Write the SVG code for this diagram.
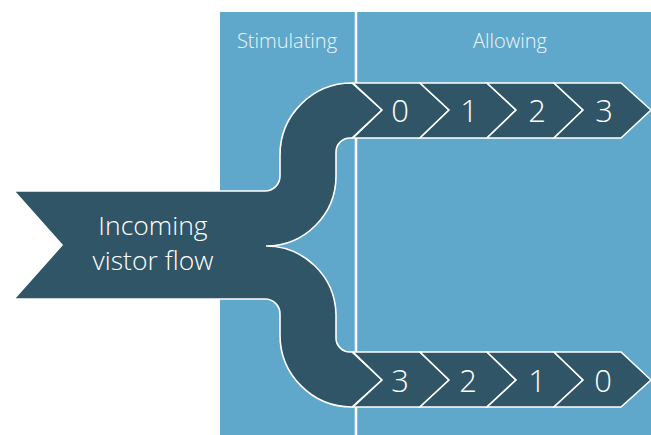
<svg xmlns="http://www.w3.org/2000/svg" width="651" height="435" viewBox="0 0 651 435">
<defs>
<style>
.panel{fill:#5fa8cb}
.dark{fill:#2f5567;stroke:#ffffff;stroke-width:1.6;stroke-linejoin:miter}
.hdr{font-family:"Open Sans","Liberation Sans",sans-serif;font-weight:300;font-size:20px;fill:#eef5f9;text-anchor:middle}
.num{font-family:"Open Sans","Liberation Sans",sans-serif;font-weight:300;font-size:31px;fill:#ffffff;text-anchor:middle;dominant-baseline:central}
.lbl{font-family:"Open Sans","Liberation Sans",sans-serif;font-weight:300;font-size:26.5px;fill:#ffffff;text-anchor:middle}
</style>
</defs>
<g id="background">
<rect class="panel" x="220" y="12" width="431" height="423"/>
<line x1="356" y1="12" x2="356" y2="435" stroke="#ffffff" stroke-width="2.5"/>
<text class="hdr" x="287" y="48">Stimulating</text>
<text class="hdr" x="510" y="48">Allowing</text>
</g>
<g id="connectors">
<path class="dark" d="M14,191 L265,191 A15,15 0 0 0 280,176 L280,155 A72,72 0 0 1 352,83 L382,110 L352,138 L350,138 A14,14 0 0 0 336,152 L336,176 A70,70 0 0 1 266,246 A70,70 0 0 1 336,314 L336,338 A14,14 0 0 0 350,352 L352,352 L382,380 L352,407 A72,72 0 0 1 280,335 L280,314 A15,15 0 0 0 265,299 L14,299 L62,245 Z"/>
</g>
<g id="incoming">
<text class="lbl" x="153" y="235">Incoming</text>
<text class="lbl" x="153" y="270">vistor flow</text>
</g>
<g id="top-chevrons">
<g id="top-0"><path class="dark" d="M353,83 L420,83 L449,110 L420,138 L353,138 L382,110 Z"/><text class="num" x="400" y="110">0</text></g>
<g id="top-1"><path class="dark" d="M420,83 L487,83 L516,110 L487,138 L420,138 L449,110 Z"/><text class="num" x="469" y="110">1</text></g>
<g id="top-2"><path class="dark" d="M487,83 L554,83 L583,110 L554,138 L487,138 L516,110 Z"/><text class="num" x="537" y="110">2</text></g>
<g id="top-3"><path class="dark" d="M554,83 L621,83 L651,110 L621,138 L554,138 L583,110 Z"/><text class="num" x="604" y="110">3</text></g>
</g>
<g id="bottom-chevrons">
<g id="bot-3"><path class="dark" d="M353,352 L420,352 L449,380 L420,407 L353,407 L382,380 Z"/><text class="num" x="400" y="380">3</text></g>
<g id="bot-2"><path class="dark" d="M420,352 L487,352 L516,380 L487,407 L420,407 L449,380 Z"/><text class="num" x="468" y="380">2</text></g>
<g id="bot-1"><path class="dark" d="M487,352 L554,352 L583,380 L554,407 L487,407 L516,380 Z"/><text class="num" x="537" y="380">1</text></g>
<g id="bot-0"><path class="dark" d="M554,352 L621,352 L651,380 L621,407 L554,407 L583,380 Z"/><text class="num" x="603" y="380">0</text></g>
</g>
</svg>
